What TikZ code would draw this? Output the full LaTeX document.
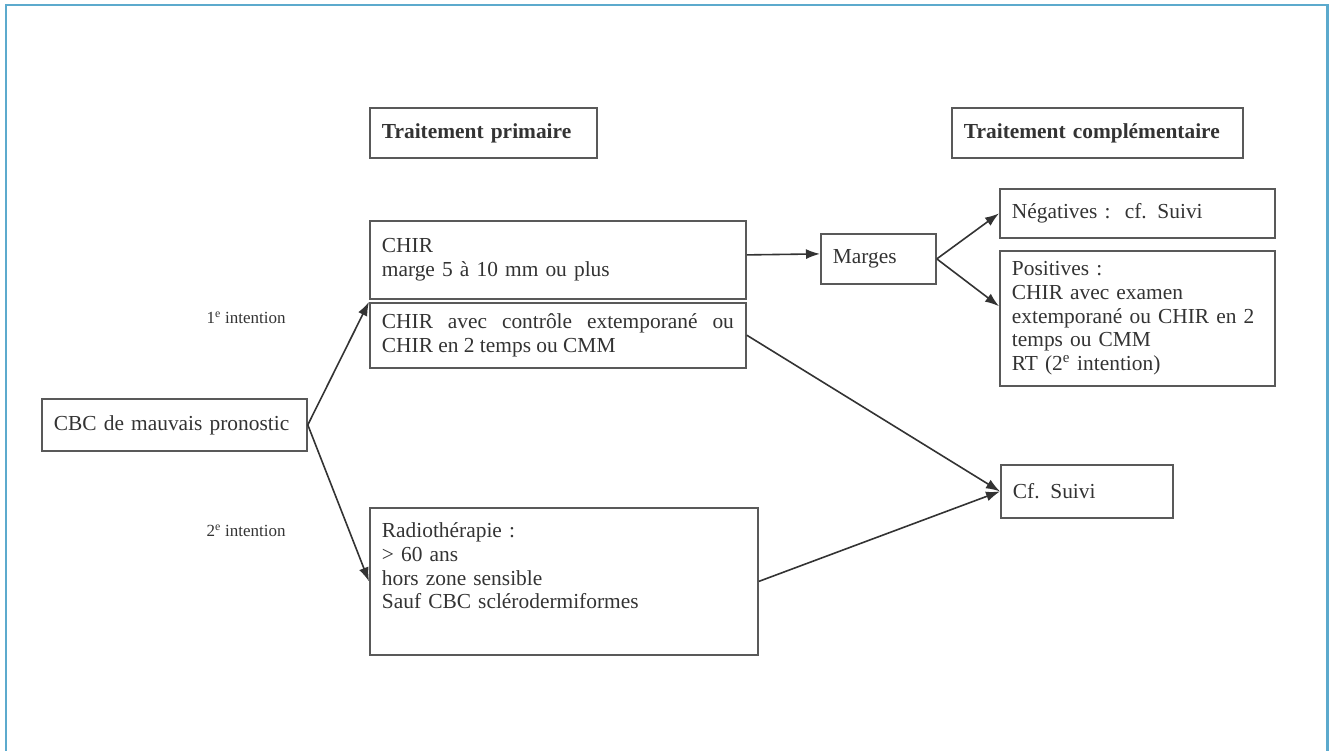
\documentclass[tikz,border=0pt]{standalone}
\usepackage{fontspec}
\setmainfont{Liberation Serif}
\usetikzlibrary{positioning,arrows.meta}
\definecolor{ink}{HTML}{333333}
\definecolor{frameblue}{RGB}{92,170,205}

\begin{document}
\begin{tikzpicture}
    [x=1pt,y=-1pt,
     box/.style={draw=black!65,line width=1.8pt,anchor=north west,inner xsep=12pt,inner ysep=0pt,
       align=left,text=ink,font=\fontsize{21.4}{23.7}\selectfont},
     head/.style={box,font=\fontsize{21.4}{23.7}\selectfont\bfseries},
     lbl/.style={anchor=west,text=ink,font=\fontsize{17}{20}\selectfont},
     arr/.style={-{Latex[length=14pt,width=10pt]},line width=1.6pt,draw=black!80}]
    \useasboundingbox (0,0) rectangle (1334,751);
    \draw[frameblue,line width=2.5pt] (6,751) -- (6,5) -- (1327.5,5) -- (1327.5,751);
    % headers
    \node[head,text width=203pt,minimum height=50pt] (prim) at (369,107) {Traitement primaire};
    \node[head,text width=267pt,minimum height=50pt] (compl) at (951,107) {Traitement complémentaire};
    % primary treatment
    \node[box,text width=241pt,minimum height=52pt] (cbc) at (41,398) {CBC de mauvais pronostic};
    \node[box,text width=352pt,minimum height=78pt] (chir1) at (369,220) {CHIR\\marge 5 à 10 mm ou plus};
    \node[box,text width=352pt,minimum height=65pt,align=justify,
          below=2pt of chir1.south west,anchor=north west] (chir2)
          {CHIR avec contrôle extemporané ou\linebreak CHIR en 2 temps ou CMM};
    \node[box,text width=364pt,minimum height=147pt] (radio) at (369,507)
          {Radiothérapie :\\> 60 ans\\hors zone sensible\\Sauf CBC sclérodermiformes\\\strut};
    \node[lbl] (int1) at (203,318) {1\textsuperscript{e} intention};
    \node[lbl] (int2) at (203,531) {2\textsuperscript{e} intention};
    % complementary treatment
    \node[box,text width=91pt,minimum height=50pt] (marges) at (820,233) {Marges};
    \node[box,text width=251pt,minimum height=49pt] (neg) at (999,188) {Négatives :\ \ cf. Suivi};
    \node[box,text width=251pt,minimum height=135pt,
          below=11pt of neg.south west,anchor=north west] (pos)
          {Positives :\\CHIR avec examen\\extemporané ou CHIR en 2\\temps ou CMM\\RT (2\textsuperscript{e} intention)};
    \node[box,text width=148pt,minimum height=53pt] (suivi) at (1000,464) {Cf. Suivi};
    % arrows
    \draw[arr] (cbc.east) -- (chir2.north west);
    \draw[arr] (cbc.east) -- (radio.west);
    \draw[arr] ([yshift=5pt]chir1.east) -- ([yshift=5pt]marges.west);
    \draw[arr] (marges.east) -- (neg.west);
    \draw[arr] (marges.east) -- ([yshift=12pt]pos.west);
    \draw[arr] (chir2.east) -- (suivi.west);
    \draw[arr] (radio.east) -- (suivi.west);
\end{tikzpicture}
\end{document}
